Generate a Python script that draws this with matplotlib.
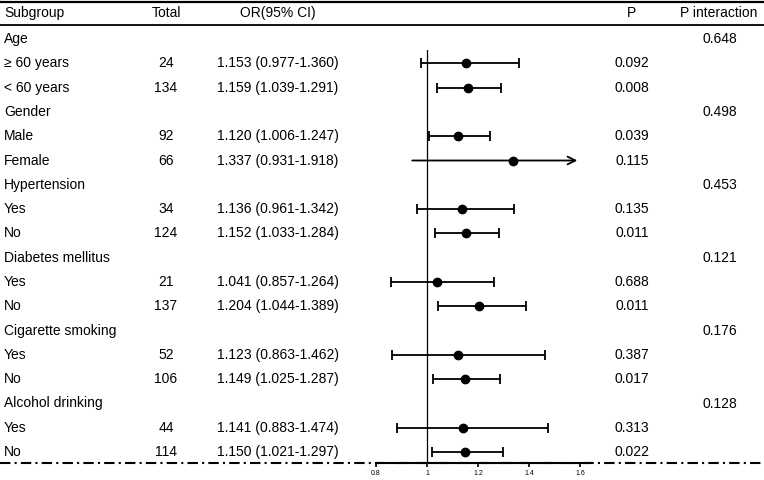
import matplotlib
matplotlib.use("Agg")
import matplotlib.pyplot as plt
from matplotlib.lines import Line2D
from matplotlib.transforms import blended_transform_factory

plt.rcParams["font.family"] = ["Liberation Sans", "DejaVu Sans"]

# --- Donnees ---
groups = ["Age", "Gender", "Hypertension", "Diabetes mellitus",
          "Cigarette smoking", "Alcohol drinking"]
p_interaction = ["0.648", "0.498", "0.453", "0.121", "0.176", "0.128"]
subgroups = ["≥ 60 years", "< 60 years", "Male", "Female", "Yes", "No",
             "Yes", "No", "Yes", "No", "Yes", "No"]
totals = [24, 134, 92, 66, 34, 124, 21, 137, 52, 106, 44, 114]
or_est = [1.153, 1.159, 1.120, 1.337, 1.136, 1.152,
          1.041, 1.204, 1.123, 1.149, 1.141, 1.150]
ci_low = [0.977, 1.039, 1.006, 0.931, 0.961, 1.033,
          0.857, 1.044, 0.863, 1.025, 0.883, 1.021]
ci_high = [1.360, 1.291, 1.247, 1.918, 1.342, 1.284,
           1.264, 1.389, 1.462, 1.287, 1.474, 1.297]
p_values = ["0.092", "0.008", "0.039", "0.115", "0.135", "0.011",
            "0.688", "0.011", "0.387", "0.017", "0.313", "0.022"]
xticks = [0.8, 1, 1.2, 1.4, 1.6]

W, H = 764, 480
ROW0, STEP = 39, 24.3          # position px de la premiere ligne, pas
XMAX = 1.6                     # au-dela : fleche

fig = plt.figure(figsize=(W / 100, H / 100), dpi=100)
fig.patch.set_facecolor("white")

# axes du forest plot (bas = ligne pointillee, haut = debut de la ligne verticale)
left_px, right_px, top_px, bot_px = 376, 589, 50, 463
ax = fig.add_axes([left_px / W, (H - bot_px) / H,
                   (right_px - left_px) / W, (bot_px - top_px) / H])
ax.set_xlim(0.8, 1.635)
ax.set_ylim((bot_px - ROW0) / STEP, (top_px - ROW0) / STEP)
ax.patch.set_alpha(0)
for side in ("top", "right", "left"):
    ax.spines[side].set_visible(False)
ax.spines["bottom"].set_linewidth(1.5)
ax.spines["bottom"].set_bounds(0.8, 1.635)
ax.set_yticks([])
ax.set_xticks(xticks)
ax.set_xticklabels(["0.8", "1", "1.2", "1.4", "1.6"])
ax.tick_params(axis="x", length=3, width=1.2, labelsize=5, pad=2)
ax.axvline(1, color="black", lw=0.9, zorder=1)

tr = blended_transform_factory(fig.transFigure, ax.transData)
FS = 10

def col(x_px, y, s, ha="center"):
    ax.text(x_px / W, y, s, transform=tr, ha=ha, va="center", fontsize=FS,
            color="black")

# en-tete
hy = (13 - ROW0) / STEP
col(4, hy, "Subgroup", ha="left")
col(166, hy, "Total")
col(278, hy, "OR(95% CI)")
col(632, hy, "P")
col(719, hy, "P interaction")

# lignes horizontales
for ypx, lw in ((2, 1.6), (25, 1.3)):
    fig.add_artist(Line2D([0, 1], [(H - ypx) / H] * 2, color="black",
                          lw=lw, transform=fig.transFigure))
fig.add_artist(Line2D([0, 1], [(H - bot_px) / H] * 2, color="black", lw=1.5,
                      linestyle=(0, (5, 2, 1, 2)), transform=fig.transFigure,
                      zorder=0))

for g, name in enumerate(groups):
    r = 3 * g
    col(4, r, name, ha="left")
    col(720, r, p_interaction[g])
    for k in range(2):
        i = 2 * g + k
        y = r + 1 + k
        col(4, y, subgroups[i], ha="left")
        col(166, y, str(totals[i]))
        col(278, y, f"{or_est[i]:.3f} ({ci_low[i]:.3f}-{ci_high[i]:.3f})")
        col(632, y, p_values[i])
        if ci_high[i] > XMAX:
            ax.annotate("", xy=(XMAX, y), xytext=(ci_low[i], y),
                        arrowprops=dict(arrowstyle="->", color="black",
                                        lw=1.3, mutation_scale=14),
                        annotation_clip=False)
            ax.plot(or_est[i], y, "o", color="black", ms=6, zorder=3,
                    clip_on=False)
        else:
            ax.errorbar(or_est[i], y,
                        xerr=[[or_est[i] - ci_low[i]], [ci_high[i] - or_est[i]]],
                        fmt="o", color="black", ms=6, elinewidth=1.3,
                        capsize=3.5, capthick=1.3, zorder=3, clip_on=False)

fig.savefig("out.png", dpi=100)
